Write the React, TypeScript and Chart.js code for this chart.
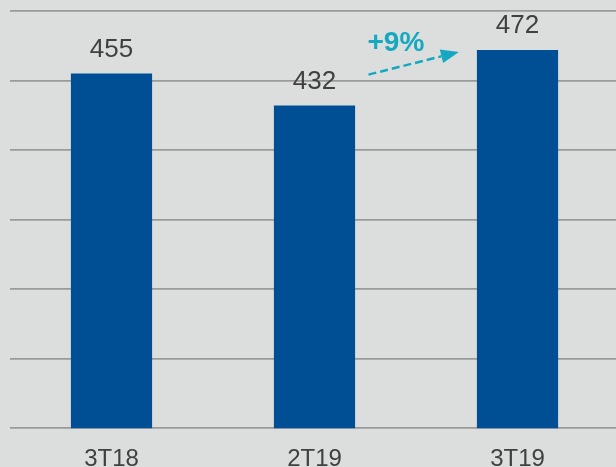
import React, { useEffect, useRef } from "react";
import { Chart, registerables } from "chart.js";

Chart.register(...registerables);

const categories = ["3T18", "2T19", "3T19"];
const values = [455, 432, 472];
const yTicks = [200, 250, 300, 350, 400, 450, 500];
const growthLabel = "+9%";

const BG = "#dcdedd";
const BAR = "#004f95";
const TEXT = "#404040";
const TEAL = "#14a9c0";
const GRID = "#9a9a9a";
const FONT = '"Liberation Sans", Arial, sans-serif';

const labelPlugin = {
  id: "labels",
  afterDatasetsDraw(chart: any) {
    const ctx = chart.ctx as CanvasRenderingContext2D;
    const meta = chart.getDatasetMeta(0);
    const xs = chart.scales.x;
    const ys = chart.scales.y;
    ctx.save();
    ctx.fillStyle = TEXT;
    ctx.font = `26px ${FONT}`;
    ctx.textAlign = "center";
    ctx.textBaseline = "alphabetic";
    meta.data.forEach((bar: any, i: number) => {
      ctx.fillText(String(values[i]), bar.x, bar.y - 17);
    });
    ctx.font = `24px ${FONT}`;
    categories.forEach((c, i) => {
      ctx.fillText(c, xs.getPixelForValue(i), 466);
    });
    const b1 = meta.data[1];
    const b2 = meta.data[2];
    const sx = b1.x + 54;
    const sy = ys.getPixelForValue(values[1]) - 31;
    const ex = b2.x - b2.width / 2 - 18;
    const ey = ys.getPixelForValue(values[2]) + 2;
    const ang = Math.atan2(ey - sy, ex - sx);
    const headLen = 18;
    const headW = 7;
    const bx = ex - headLen * Math.cos(ang);
    const by = ey - headLen * Math.sin(ang);
    ctx.strokeStyle = TEAL;
    ctx.lineWidth = 2.5;
    ctx.setLineDash([8, 4]);
    ctx.beginPath();
    ctx.moveTo(sx, sy);
    ctx.lineTo(bx, by);
    ctx.stroke();
    ctx.setLineDash([]);
    ctx.fillStyle = TEAL;
    ctx.beginPath();
    ctx.moveTo(ex, ey);
    ctx.lineTo(bx + headW * Math.sin(ang), by - headW * Math.cos(ang));
    ctx.lineTo(bx - headW * Math.sin(ang), by + headW * Math.cos(ang));
    ctx.closePath();
    ctx.fill();
    ctx.font = `bold 28px ${FONT}`;
    ctx.textAlign = "left";
    ctx.fillText(growthLabel, sx - 1, ys.getPixelForValue(values[2]) + 1);
    ctx.restore();
  },
};

export default function App() {
  const ref = useRef<HTMLCanvasElement>(null);
  useEffect(() => {
    document.body.style.margin = "0";
    const chart = new Chart(ref.current!, {
      type: "bar",
      data: {
        labels: categories,
        datasets: [
          {
            data: values,
            backgroundColor: BAR,
            barPercentage: 0.4,
            categoryPercentage: 1,
          },
        ],
      },
      options: {
        responsive: false,
        animation: false,
        layout: { padding: { left: 10, top: 11, right: 1, bottom: 38.7 } },
        plugins: { legend: { display: false }, tooltip: { enabled: false } },
        scales: {
          x: {
            grid: { display: false, drawTicks: false },
            border: { display: false },
            ticks: { display: false },
          },
          y: {
            min: yTicks[0],
            max: yTicks[yTicks.length - 1],
            afterBuildTicks: (s: any) => {
              s.ticks = yTicks.map((v) => ({ value: v }));
            },
            grid: { color: GRID, lineWidth: 1.8, drawTicks: false },
            border: { display: false },
            ticks: { display: false },
          },
        },
      },
      plugins: [labelPlugin],
    });
    return () => chart.destroy();
  }, []);
  return (
    <div
      style={{
        position: "fixed",
        left: 0,
        top: 0,
        width: 616,
        height: 467,
        background: BG,
        overflow: "hidden",
      }}
    >
      <canvas ref={ref} width={620} height={467} style={{ display: "block" }} />
    </div>
  );
}
